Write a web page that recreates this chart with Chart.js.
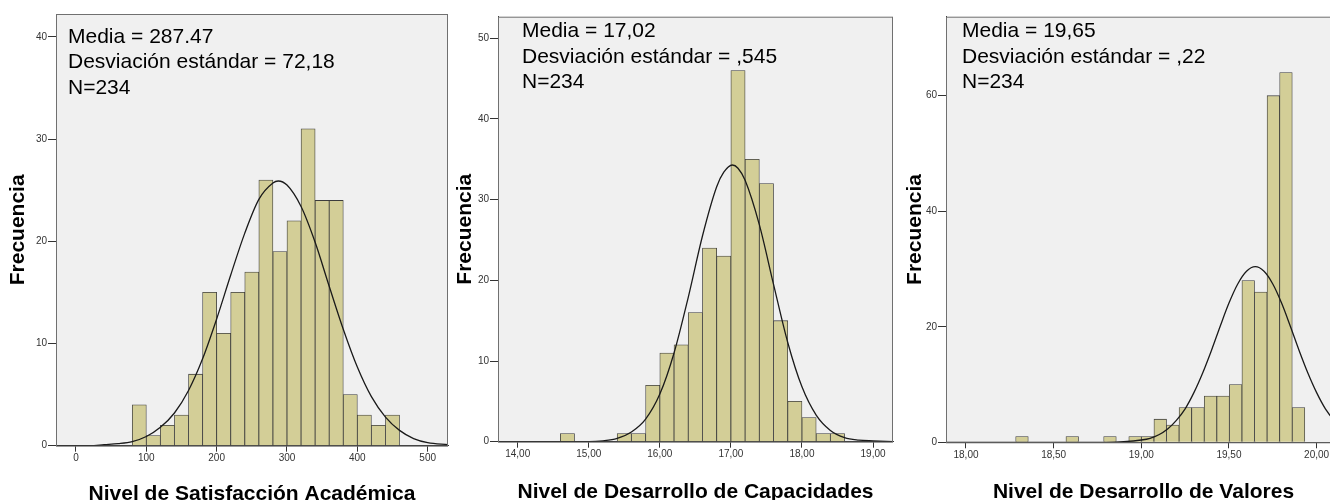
<!DOCTYPE html>
<html lang="es">
<head>
<meta charset="utf-8">
<title>Histogramas</title>
<script src="https://cdn.jsdelivr.net/npm/chart.js@4.4.1/dist/chart.umd.min.js"></script>
<style>
  html, body { margin: 0; padding: 0; background: #fff; }
  #wrap { position: relative; width: 1330px; height: 500px; overflow: hidden; }
  canvas { position: absolute; top: 0; }
</style>
</head>
<body>
<div id="wrap">
  <canvas id="histSatisfaccion" width="450" height="510" style="left:0px"></canvas>
  <canvas id="histCapacidades" width="445" height="510" style="left:450px"></canvas>
  <canvas id="histValores" width="450" height="510" style="left:895px"></canvas>
</div>
<script>
// Nivel de Satisfacción Académica (bins of 20)
const satBins   = [90, 110, 130, 150, 170, 190, 210, 230, 250, 270, 290, 310, 330, 350, 370, 390, 410, 430, 450];
const satCounts = [4, 1, 2, 3, 7, 15, 11, 15, 17, 26, 19, 22, 31, 24, 24, 5, 3, 2, 3];
const satCurveX = [-28, 0, 20, 40, 60, 80, 100, 120, 140, 160, 180, 200, 220, 240, 260, 280, 287.5, 300, 320, 340, 360, 380, 400, 420, 440, 460, 480, 500, 529];
const satCurveY = [0, 0, 0, 0.1, 0.2, 0.4, 0.9, 1.8, 3.2, 5.4, 8.5, 12.4, 16.7, 20.8, 24.1, 25.7, 25.9, 25.5, 23.4, 19.9, 15.6, 11.4, 7.7, 4.8, 2.8, 1.5, 0.7, 0.3, 0.1];
const satTicksX = [0, 100, 200, 300, 400, 500];
const satTicksY = [0, 10, 20, 30, 40];
const satStats  = ['Media = 287.47', 'Desviación estándar = 72,18', 'N=234'];

// Nivel de Desarrollo de Capacidades (bins of 0,2)
const capBins   = [14.7, 15.5, 15.7, 15.9, 16.1, 16.3, 16.5, 16.7, 16.9, 17.1, 17.3, 17.5, 17.7, 17.9, 18.1, 18.3, 18.5];
const capCounts = [1, 1, 1, 7, 11, 12, 16, 24, 23, 46, 35, 32, 15, 5, 3, 1, 1];
const capCurveX = [13.73, 14.4, 14.8, 15.0, 15.2, 15.4, 15.6, 15.8, 16.0, 16.2, 16.4, 16.6, 16.8, 16.9, 17.02, 17.1, 17.2, 17.4, 17.6, 17.8, 18.0, 18.2, 18.4, 18.6, 18.8, 19.0, 19.28];
const capCurveY = [0, 0, 0, 0, 0.1, 0.4, 1.2, 2.8, 5.9, 11.0, 17.9, 25.5, 31.6, 33.4, 34.3, 33.9, 32.4, 26.9, 19.5, 12.3, 6.8, 3.3, 1.4, 0.5, 0.2, 0.1, 0];
const capTicksX = [14, 15, 16, 17, 18, 19];
const capTicksY = [0, 10, 20, 30, 40, 50];
const capStats  = ['Media = 17,02', 'Desviación estándar = ,545', 'N=234'];

// Nivel de Desarrollo de Valores (bins of about 0,0717)
const valBins   = [18.3193, 18.6061, 18.8212, 18.9646, 19.0363, 19.1080, 19.1797, 19.2514, 19.3231, 19.3948, 19.4665, 19.5382, 19.6099, 19.6816, 19.7533, 19.8250, 19.8967];
const valCounts = [1, 1, 1, 1, 1, 4, 3, 6, 6, 8, 8, 10, 28, 26, 60, 64, 6];
const valCurveX = [17.886, 18.5, 18.8, 18.9, 19.0, 19.05, 19.1, 19.15, 19.2, 19.25, 19.3, 19.35, 19.4, 19.45, 19.5, 19.55, 19.6, 19.65, 19.7, 19.75, 19.8, 19.85, 19.9, 19.95, 20.0, 20.05, 20.1, 20.139];
const valCurveY = [0, 0, 0, 0.1, 0.4, 0.7, 1.3, 2.3, 3.8, 5.8, 8.6, 12.0, 15.9, 20.1, 24.1, 27.4, 29.6, 30.4, 29.6, 27.4, 24.1, 20.1, 15.9, 12.0, 8.6, 5.8, 3.8, 2.6];
const valTicksX = [18, 18.5, 19, 19.5, 20];
const valTicksY = [0, 20, 40, 60];
const valStats  = ['Media = 19,65', 'Desviación estándar = ,22', 'N=234'];

const FONT = '"Liberation Sans", Arial, sans-serif';

// grey plot background, frame and the stats text in the corner
const framePlugin = {
  id: 'frame',
  beforeDraw(chart) {
    const { ctx, chartArea: a } = chart;
    ctx.save();
    ctx.fillStyle = '#f0f0f0';
    ctx.fillRect(a.left, a.top, a.right - a.left, a.bottom - a.top);
    ctx.restore();
  },
  afterDraw(chart, args, opts) {
    const { ctx, chartArea: a } = chart;
    ctx.save();
    ctx.strokeStyle = '#707070';
    ctx.lineWidth = 1;
    ctx.strokeRect(a.left + 0.5, a.top + 0.5, a.right - a.left - 1, a.bottom - a.top);
    ctx.fillStyle = '#000';
    ctx.font = '21px ' + FONT;
    ctx.textBaseline = 'middle';
    opts.lines.forEach((t, i) => ctx.fillText(t, a.left + opts.dx, a.top + opts.dy + i * 25.5));
    ctx.restore();
  }
};

function makeHistogram(id, s) {
  const ctx = document.getElementById(id).getContext('2d');
  return new Chart(ctx, {
    type: 'bar',
    data: {
      datasets: [
        {
          type: 'line',
          data: s.curveX.map((x, i) => ({ x: x, y: s.curveY[i] })),
          borderColor: '#1a1a1a',
          borderWidth: 1.3,
          pointRadius: 0,
          cubicInterpolationMode: 'monotone',
          fill: false,
          order: 0
        },
        {
          data: s.bins.map((x, i) => ({ x: x, y: s.counts[i] })),
          backgroundColor: '#d3ce97',
          borderColor: '#3c3c3c',
          borderWidth: 0.8,
          barPercentage: 1,
          categoryPercentage: 1,
          order: 1
        }
      ]
    },
    plugins: [framePlugin],
    options: {
      responsive: false,
      animation: false,
      events: [],
      layout: { padding: { top: s.top, right: s.right, left: 0, bottom: 0 } },
      plugins: {
        legend: { display: false },
        tooltip: { enabled: false },
        frame: { lines: s.stats, dx: s.textDx, dy: s.textDy }
      },
      scales: {
        x: {
          type: 'linear',
          min: s.xMin,
          max: s.xMax,
          offset: false,
          afterBuildTicks: scale => { scale.ticks = s.ticksX.map(v => ({ value: v })); },
          afterFit: scale => { scale.height = s.xHeight; },
          ticks: {
            autoSkip: false,
            maxRotation: 0,
            padding: 1,
            color: '#333',
            font: { family: FONT, size: 10 },
            callback: s.fmt
          },
          grid: { display: true, offset: false, drawOnChartArea: false, drawTicks: true, tickLength: 6, tickColor: '#333' },
          border: { display: true, color: '#333' },
          title: {
            display: true,
            text: s.xTitle,
            color: '#000',
            font: { family: FONT, size: 21, weight: 'bold' },
            padding: { top: 0, bottom: s.xTitlePad }
          }
        },
        y: {
          type: 'linear',
          min: 0,
          max: s.yMax,
          afterBuildTicks: scale => { scale.ticks = s.ticksY.map(v => ({ value: v })); },
          afterFit: scale => { scale.width = s.yWidth; },
          ticks: {
            padding: 1,
            color: '#333',
            font: { family: FONT, size: 10 }
          },
          grid: { display: true, drawOnChartArea: false, drawTicks: true, tickLength: 8, tickColor: '#333' },
          border: { display: true, color: '#333' },
          title: {
            display: true,
            text: 'Frecuencia',
            color: '#000',
            font: { family: FONT, size: 21, weight: 'bold' },
            padding: { top: s.yTitlePad, bottom: 0 }
          }
        }
      }
    }
  });
}

const comma2 = v => v.toFixed(2).replace('.', ',');

makeHistogram('histSatisfaccion', {
  bins: satBins, counts: satCounts, curveX: satCurveX, curveY: satCurveY,
  ticksX: satTicksX, ticksY: satTicksY, stats: satStats,
  xTitle: 'Nivel de Satisfacción Académica', fmt: v => String(v),
  xMin: -28.4, xMax: 528.9, yMax: 42.24,
  top: 14, right: 2, yWidth: 56, xHeight: 64.3,
  yTitlePad: 5.7, xTitlePad: 3, textDx: 12, textDy: 23
});

makeHistogram('histCapacidades', {
  bins: capBins, counts: capCounts, curveX: capCurveX, curveY: capCurveY,
  ticksX: capTicksX, ticksY: capTicksY, stats: capStats,
  xTitle: 'Nivel de Desarrollo de Capacidades', fmt: comma2,
  xMin: 13.723, xMax: 19.281, yMax: 52.68,
  top: 16.7, right: 2, yWidth: 48, xHeight: 68.3,
  yTitlePad: 3.1, xTitlePad: 5, textDx: 24, textDy: 15
});

makeHistogram('histValores', {
  bins: valBins, counts: valCounts, curveX: valCurveX, curveY: valCurveY,
  ticksX: valTicksX, ticksY: valTicksY, stats: valStats,
  xTitle: 'Nivel de Desarrollo de Valores', fmt: comma2,
  xMin: 17.886, xMax: 20.139, yMax: 73.67,
  top: 16.7, right: 4, yWidth: 51, xHeight: 67.7,
  yTitlePad: 7.2, xTitlePad: 5.4, textDx: 16, textDy: 15
});
</script>
</body>
</html>
